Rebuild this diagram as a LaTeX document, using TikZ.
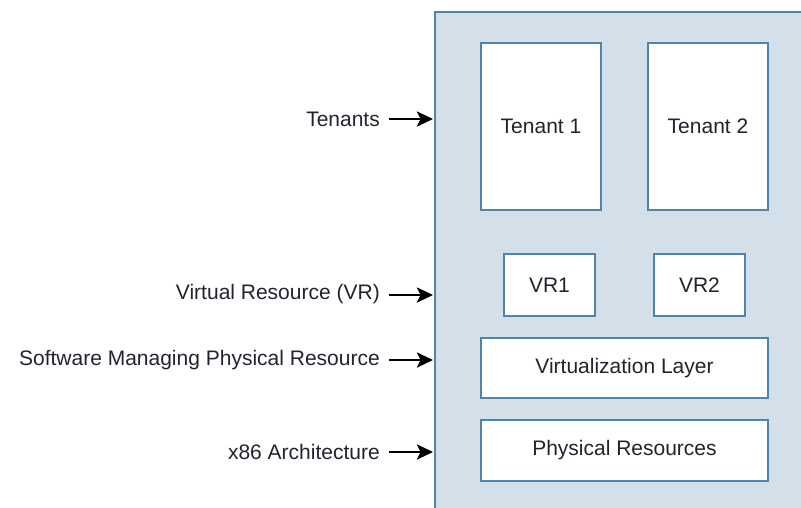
\documentclass[tikz,border=0pt]{standalone}
\usepackage{fontspec}
\setmainfont{Liberation Sans}
\usetikzlibrary{arrows.meta}
\definecolor{bluefill}{HTML}{D3E0EA}
\definecolor{blueline}{HTML}{4F84AD}
\definecolor{txt}{HTML}{23232E}
\tikzset{
  box/.style={draw=blueline, line width=1.8pt, fill=white, inner sep=0pt},
  lbl/.style={anchor=east, text=txt, font=\fontsize{21}{24}\selectfont, inner sep=0pt},
  btxt/.style={text=txt, font=\fontsize{21}{24}\selectfont},
  arr/.style={-{Stealth[length=16pt,width=15pt,inset=3.5pt]}, line width=2.6pt, black}
}
\begin{document}
\begin{tikzpicture}[x=1pt,y=-1pt]
\useasboundingbox (0,0) rectangle (801,507);
\begin{scope}
\clip (0,0) rectangle (801,507);
\draw[draw=blueline, fill=bluefill, line width=2.4pt] (435,12) rectangle (830,540);
\end{scope}
% boxes
\draw[box] (481,43) rectangle node[btxt] (t1) {Tenant 1} (601,210);
\draw[box] (648,43) rectangle node[btxt] (t2) {Tenant 2} (768,210);
\draw[box] (504,254) rectangle node[btxt] (vr1) {VR1} (595,316);
\draw[box] (654,254) rectangle node[btxt] (vr2) {VR2} (745,316);
\draw[box] (481,338) rectangle node[btxt] (vl) {Virtualization Layer} (768,398);
\draw[box] (481,420) rectangle node[btxt] (pr) {Physical Resources} (768,481);
% labels
\node[lbl] (l1) at (380,119) {Tenants};
\node[lbl] (l2) at (380,294) {Virtual Resource (VR)};
\node[lbl] (l3) at (380,360) {Software Managing Physical Resource};
\node[lbl] (l4) at (380,452) {x86 Architecture};
\coordinate (a1) at (433,119);
\coordinate (a2) at (433,295);
\coordinate (a3) at (433,360);
\coordinate (a4) at (433,452);
\draw[arr] ([xshift=9pt]l1.east |- a1) -- (a1);
\draw[arr] ([xshift=9pt]l2.east |- a2) -- (a2);
\draw[arr] ([xshift=9pt]l3.east |- a3) -- (a3);
\draw[arr] ([xshift=9pt]l4.east |- a4) -- (a4);
\end{tikzpicture}
\end{document}
